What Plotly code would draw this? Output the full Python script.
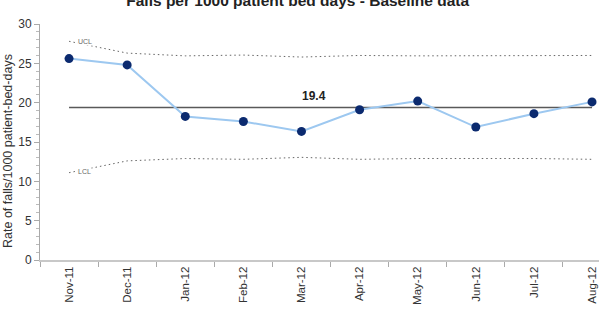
import plotly.graph_objects as go

months = ["Nov-11", "Dec-11", "Jan-12", "Feb-12", "Mar-12", "Apr-12", "May-12", "Jun-12", "Jul-12", "Aug-12"]
rate = [25.6, 24.8, 18.25, 17.6, 16.35, 19.1, 20.2, 16.9, 18.6, 20.1]
mean_val = 19.4
ucl = [27.8, 26.3, 25.95, 26.05, 25.8, 26.0, 25.95, 25.95, 25.95, 26.0]
lcl = [11.1, 12.6, 12.9, 12.8, 13.05, 12.8, 12.9, 12.9, 12.9, 12.8]

xi = list(range(len(months)))

fig = go.Figure()
fig.add_trace(go.Scatter(x=xi, y=ucl, mode="lines",
                         line=dict(color="#666666", width=1, dash="1.5px,3px"), hoverinfo="skip"))
fig.add_trace(go.Scatter(x=xi, y=lcl, mode="lines",
                         line=dict(color="#666666", width=1, dash="1.5px,3px"), hoverinfo="skip"))
fig.add_trace(go.Scatter(x=[xi[0], xi[-1]], y=[mean_val, mean_val], mode="lines",
                         line=dict(color="#595959", width=1.5), hoverinfo="skip"))
fig.add_trace(go.Scatter(x=xi, y=rate, mode="lines+markers",
                         line=dict(color="#9DC8F0", width=2),
                         marker=dict(color="#0B2A6F", size=9)))

fig.add_annotation(x=0.27, y=ucl[0] - 0.05, text="UCL", showarrow=False,
                   font=dict(family="Arial, Liberation Sans", size=7, color="#666666"),
                   bgcolor="white", borderpad=0)
fig.add_annotation(x=0.27, y=lcl[0] + 0.15, text="LCL", showarrow=False,
                   font=dict(family="Arial, Liberation Sans", size=7, color="#666666"),
                   bgcolor="white", borderpad=0)
fig.add_annotation(x=4.22, y=mean_val, yshift=11, text="<b>19.4</b>", showarrow=False,
                   font=dict(family="Arial, Liberation Sans", size=12, color="#222222"))
fig.add_annotation(xref="paper", yref="paper", x=-0.0572, y=0.462,
                   xanchor="center", yanchor="middle", textangle=-90,
                   text="Rate of falls/1000 patient-bed-days", showarrow=False,
                   font=dict(family="Arial, Liberation Sans", size=12.5, color="#333333"))

fig.update_layout(
    width=599, height=310,
    margin=dict(l=40, r=0, t=24, b=50),
    paper_bgcolor="white", plot_bgcolor="white",
    showlegend=False,
    font=dict(family="Arial, Liberation Sans", size=11, color="#333333"),
    title=dict(text="<b>Falls per 1000 patient bed days - Baseline data</b>",
               x=0.497, xanchor="center", y=0.998, yanchor="middle",
               font=dict(size=15.5, color="#222222")),
)
fig.update_xaxes(
    type="linear", range=[-0.5, 9.12],
    tickmode="array", tickvals=xi, ticktext=months, tickangle=-90,
    showgrid=False, zeroline=False,
    showline=True, linecolor="#C8C8C8", linewidth=2,
    ticks="", tickfont=dict(size=11.5, color="#333333"),
    minor=dict(tickmode="array", tickvals=[i - 0.5 for i in xi], ticks="outside",
               ticklen=5, tickcolor="#AAAAAA", showgrid=False),
)
fig.update_yaxes(
    range=[0, 30], dtick=5, showgrid=False, zeroline=False,
    showline=True, linecolor="#AAAAAA", linewidth=1,
    ticks="outside", ticklen=5, tickcolor="#AAAAAA",
    minor=dict(dtick=1, ticks="outside", ticklen=3, tickcolor="#BBBBBB"),
    tickfont=dict(size=12, color="#333333"),
)

fig.write_html("out.html")
